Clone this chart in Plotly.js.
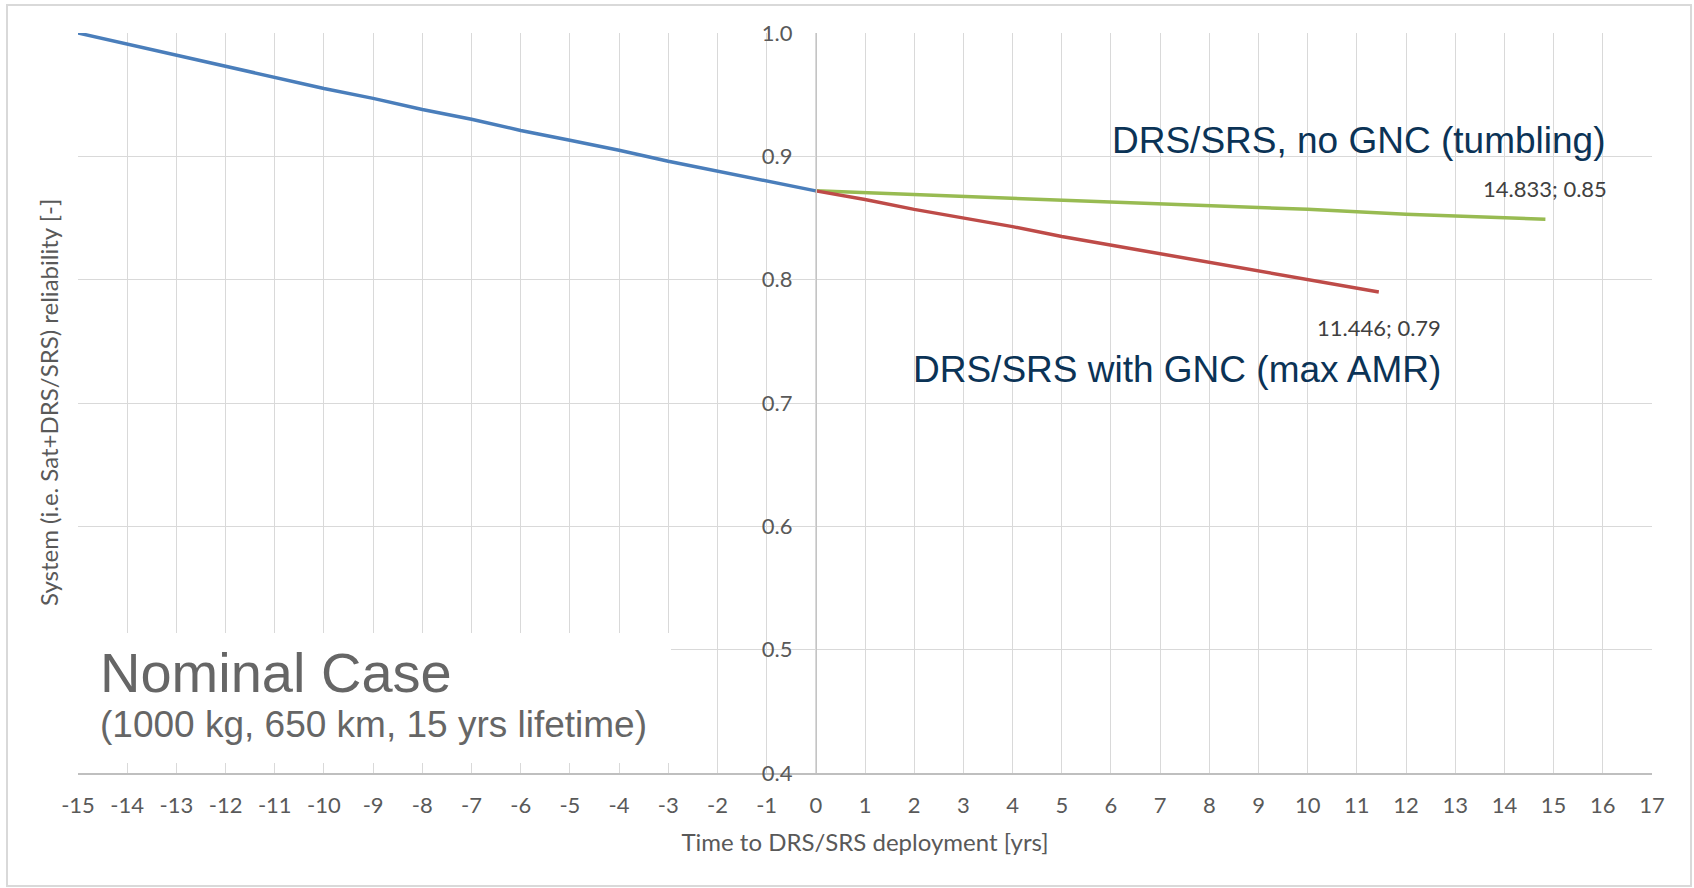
<!DOCTYPE html>
<html>
<head>
<meta charset="utf-8">
<script src="https://cdn.plot.ly/plotly-3.0.1.min.js"></script>
<style>
  html, body { margin: 0; padding: 0; background: #ffffff; }
  #chart { width: 1694px; height: 888px; }
</style>
</head>
<body>
<div id="chart"></div>
<script>
// ---- Data ----
const beforeX = [-15, -14, -13, -12, -11, -10, -9, -8, -7, -6, -5, -4, -3, -2, -1, 0];
const beforeY = [1.000, 0.991, 0.982, 0.973, 0.964, 0.955, 0.947, 0.938, 0.930, 0.921, 0.913, 0.905, 0.896, 0.888, 0.880, 0.872];

const tumblingX = [0, 2, 4, 6, 8, 10, 12, 14, 14.833];
const tumblingY = [0.872, 0.869, 0.866, 0.863, 0.860, 0.857, 0.853, 0.850, 0.849];

const gncX = [0, 1, 2, 3, 4, 5, 6, 7, 8, 9, 10, 11, 11.446];
const gncY = [0.872, 0.865, 0.857, 0.850, 0.843, 0.835, 0.828, 0.821, 0.814, 0.807, 0.800, 0.793, 0.790];

const endLabels = ["14.833; 0.85", "11.446; 0.79"];
const seriesNames = ["DRS/SRS, no GNC (tumbling)", "DRS/SRS with GNC (max AMR)"];

const xTickVals = [-15, -14, -13, -12, -11, -10, -9, -8, -7, -6, -5, -4, -3, -2, -1, 0, 1, 2, 3, 4, 5, 6, 7, 8, 9, 10, 11, 12, 13, 14, 15, 16, 17];
const xTickText = ["-15", "-14", "-13", "-12", "-11", "-10", "-9", "-8", "-7", "-6", "-5", "-4", "-3", "-2", "-1", "0", "1", "2", "3", "4", "5", "6", "7", "8", "9", "10", "11", "12", "13", "14", "15", "16", "17"];
const yTickVals = [0.4, 0.5, 0.6, 0.7, 0.8, 0.9, 1.0];

// ---- Layout geometry ----
const W = 1694, H = 888;
const M = { l: 78, r: 42, t: 33, b: 115 };
const PW = W - M.l - M.r, PH = H - M.t - M.b;
const px2x = px => (px - M.l) / PW;
const py2y = py => (H - M.b - py) / PH;

const BODY = "Lato, 'Open Sans', sans-serif";
const ARIAL = "'Liberation Sans', Arial, sans-serif";
const GRID = "#d9d9d9";

const traces = [
  { x: beforeX, y: beforeY, type: "scatter", mode: "lines", name: "Before deployment",
    line: { color: "#4a7ebb", width: 3.5 }, hoverinfo: "x+y" },
  { x: tumblingX, y: tumblingY, type: "scatter", mode: "lines", name: seriesNames[0],
    line: { color: "#98bb52", width: 3.5 }, hoverinfo: "x+y" },
  { x: gncX, y: gncY, type: "scatter", mode: "lines", name: seriesNames[1],
    line: { color: "#be4b48", width: 3.5 }, hoverinfo: "x+y" }
];

const layout = {
  width: W, height: H,
  margin: M,
  paper_bgcolor: "#ffffff",
  plot_bgcolor: "#ffffff",
  showlegend: false,
  font: { family: BODY, color: "#595959", size: 22 },
  xaxis: {
    range: [-15, 17],
    tickmode: "array", tickvals: xTickVals, ticktext: xTickText,
    showgrid: true, gridcolor: GRID, gridwidth: 1,
    zeroline: false,
    showline: true, linecolor: "#bfbfbf", linewidth: 1.5,
    ticks: "",
    ticklabelstandoff: 12,
    tickfont: { family: BODY, size: 22, color: "#595959" },
    title: { text: "Time to DRS/SRS deployment [yrs]", font: { family: BODY, size: 24, color: "#595959" }, standoff: 17 },
    fixedrange: true
  },
  yaxis: {
    range: [0.4, 1.0],
    tickmode: "array", tickvals: yTickVals,
    tickformat: ".1f",
    anchor: "free", position: 15 / 32,
    showgrid: true, gridcolor: GRID, gridwidth: 1,
    zeroline: false,
    showline: true, linecolor: "#c4c4c4", linewidth: 1,
    ticks: "",
    ticklabelstandoff: 19,
    tickfont: { family: BODY, size: 22, color: "#595959" },
    fixedrange: true
  },
  shapes: [
    // outer chart border
    { type: "rect", xref: "paper", yref: "paper",
      x0: px2x(7), x1: px2x(1691), y0: py2y(886), y1: py2y(5),
      line: { color: "#d9d9d9", width: 2 }, fillcolor: "rgba(0,0,0,0)", layer: "below" },
    // white text box behind the case description
    { type: "rect", xref: "paper", yref: "paper",
      x0: px2x(70), x1: px2x(671), y0: py2y(763), y1: py2y(633),
      line: { width: 0 }, fillcolor: "#ffffff", layer: "above" }
  ],
  annotations: [
    { xref: "paper", yref: "paper", x: px2x(48), y: py2y(403),
      text: "System (i.e. Sat+DRS/SRS) reliability [-]", textangle: -90, showarrow: false,
      xanchor: "center", yanchor: "middle",
      font: { family: BODY, size: 24, color: "#595959" } },
    { xref: "paper", yref: "paper", x: px2x(1110), y: py2y(140.5),
      text: seriesNames[0], showarrow: false, xanchor: "left", yanchor: "middle",
      font: { family: ARIAL, size: 37, color: "#0b3356" } },
    { xref: "paper", yref: "paper", x: px2x(911), y: py2y(369),
      text: seriesNames[1], showarrow: false, xanchor: "left", yanchor: "middle",
      font: { family: ARIAL, size: 37, color: "#0b3356" } },
    { xref: "x", yref: "y", x: tumblingX[tumblingX.length - 1], y: tumblingY[tumblingY.length - 1],
      text: endLabels[0], showarrow: false, xanchor: "center", yanchor: "middle", yshift: 31,
      font: { family: BODY, size: 22, color: "#404040" } },
    { xref: "x", yref: "y", x: gncX[gncX.length - 1], y: gncY[gncY.length - 1],
      text: endLabels[1], showarrow: false, xanchor: "center", yanchor: "middle", yshift: -35,
      font: { family: BODY, size: 22, color: "#404040" } },
    { xref: "paper", yref: "paper", x: px2x(98), y: py2y(672),
      text: "Nominal Case", showarrow: false, xanchor: "left", yanchor: "middle",
      font: { family: ARIAL, size: 56, color: "#666666" } },
    { xref: "paper", yref: "paper", x: px2x(98), y: py2y(724),
      text: "(1000 kg, 650 km, 15 yrs lifetime)", showarrow: false, xanchor: "left", yanchor: "middle",
      font: { family: ARIAL, size: 37, color: "#666666" } }
  ]
};

Plotly.newPlot("chart", traces, layout, { staticPlot: true, displayModeBar: false });
</script>
</body>
</html>
